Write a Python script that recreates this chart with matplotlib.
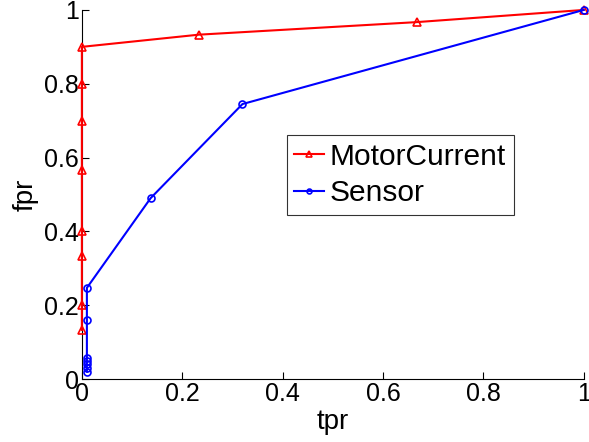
import matplotlib
matplotlib.use("Agg")
import matplotlib.pyplot as plt

plt.rcParams['font.family'] = ['Liberation Sans', 'DejaVu Sans']

motor_x = [0, 0, 0, 0, 0, 0, 0, 0, 0.233, 0.667, 1.0]
motor_y = [0.133, 0.2, 0.333, 0.4, 0.567, 0.7, 0.8, 0.9, 0.933, 0.967, 1.0]

sensor_x = [0.01, 0.01, 0.01, 0.01, 0.01, 0.01, 0.01, 0.137, 0.32, 1.0]
sensor_y = [0.02, 0.03, 0.04, 0.05, 0.057, 0.16, 0.247, 0.49, 0.745, 1.0]

ticks = [0, 0.2, 0.4, 0.6, 0.8, 1]
tick_labels = ['0', '0.2', '0.4', '0.6', '0.8', '1']

fig = plt.figure(figsize=(5.89, 4.42), dpi=100)
ax = fig.add_axes([0.139, 0.1425, 0.852, 0.835])

ax.plot(motor_x, motor_y, color='red', marker='^', markersize=6, linewidth=1.5,
        markerfacecolor='none', markeredgewidth=1.2, label='MotorCurrent',
        clip_on=False, zorder=5)
ax.plot(sensor_x, sensor_y, color='blue', marker='o', markersize=5, linewidth=1.5,
        markerfacecolor='none', markeredgewidth=1.2, label='Sensor',
        clip_on=False, zorder=5)

ax.set_xlim(0, 1)
ax.set_ylim(0, 1)
ax.set_xticks(ticks)
ax.set_xticklabels(tick_labels)
ax.set_yticks(ticks)
ax.set_yticklabels(tick_labels)
ax.tick_params(direction='in', labelsize=18, length=5, width=0.8, pad=2)
ax.spines['top'].set_visible(False)
ax.spines['right'].set_visible(False)
ax.set_xlabel('tpr', fontsize=20, labelpad=2)
ax.set_ylabel('fpr', fontsize=20, labelpad=4)

leg = ax.legend(loc='upper left', bbox_to_anchor=(0.408, 0.661), fontsize=21.5,
                frameon=True, fancybox=False, edgecolor='black', handlelength=1.0,
                borderaxespad=0, borderpad=0.25, labelspacing=0.3, handletextpad=0.2,
                markerscale=0.7)
leg.get_frame().set_linewidth(0.8)

fig.savefig('out.png', dpi=100)
